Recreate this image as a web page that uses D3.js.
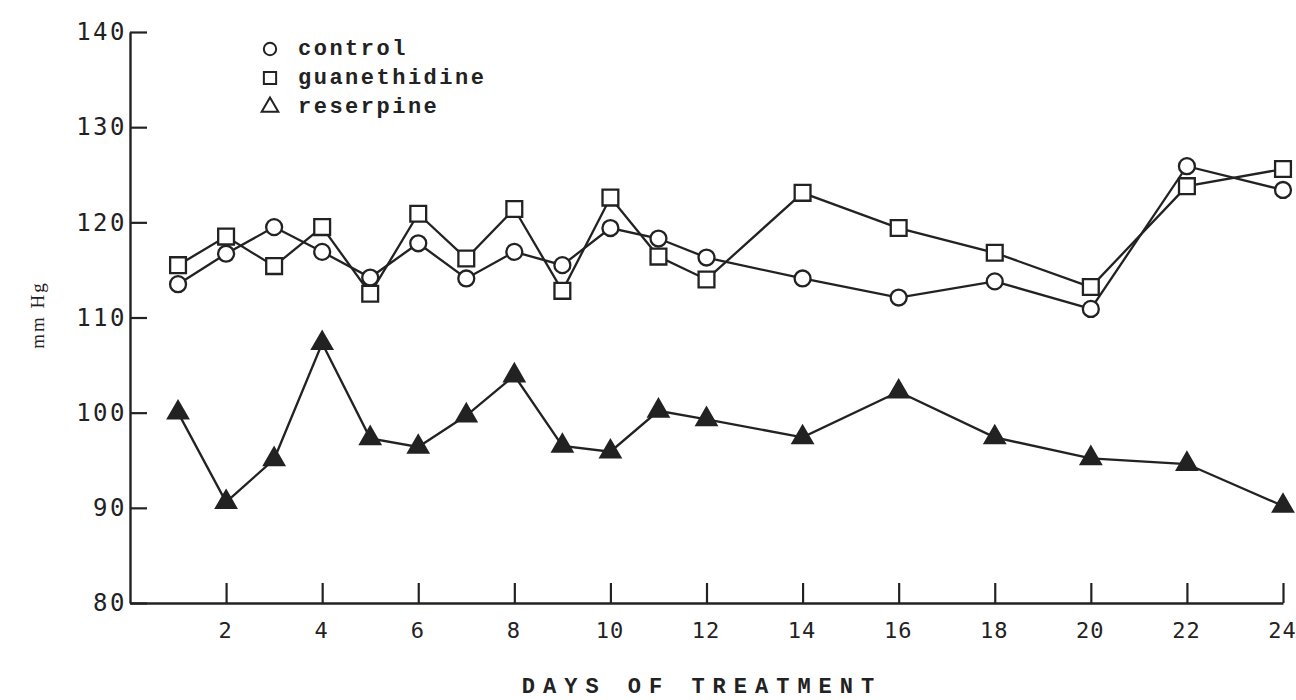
<!DOCTYPE html>
<html>
<head>
<meta charset="utf-8">
<script src="https://cdn.jsdelivr.net/npm/d3@7"></script>
<style>
  html, body { margin: 0; padding: 0; background: #fff; }
  svg { display: block; }
  .num { font-family: "DejaVu Sans Mono", "Liberation Mono", monospace; fill: #222; }
  .typ { font-family: "Liberation Mono", "DejaVu Sans Mono", monospace; fill: #222; }
  .ser { font-family: "Liberation Serif", "DejaVu Serif", serif; fill: #222; }
</style>
</head>
<body>
<svg id="chart" width="1296" height="700"></svg>
<script>
// Blood pressure (mm Hg) over days of treatment
const daysA = [1, 2, 3, 4, 5, 6, 7, 8, 9, 10, 11, 12, 14, 16, 18, 20, 22, 24];
const control =      [113.5, 116.7, 119.5, 116.9, 114.2, 117.8, 114.1, 116.9, 115.5, 119.4, 118.3, 116.3, 114.1, 112.1, 113.8, 110.9, 125.9, 123.4];
const guanethidine = [115.5, 118.5, 115.4, 119.5, 112.5, 120.9, 116.2, 121.4, 112.8, 122.6, 116.4, 114.0, 123.1, 119.4, 116.8, 113.2, 123.8, 125.6];
const reserpine =    [100.0, 90.6, 95.1, 107.3, 97.3, 96.4, 99.7, 103.9, 96.5, 95.9, 100.2, 99.3, 97.4, 102.2, 97.4, 95.2, 94.6, 90.2];

const xTicks = [2, 4, 6, 8, 10, 12, 14, 16, 18, 20, 22, 24];
const yTicks = [80, 90, 100, 110, 120, 130, 140];
const legendLabels = ["control", "guanethidine", "reserpine"];

const ink = "#222";
const svg = d3.select("#chart");

const x = d3.scaleLinear().domain([0, 24]).range([130, 1283]);
const y = d3.scaleLinear().domain([80, 140]).range([603, 32]);

// Axes with inward ticks
const yAxis = d3.axisLeft(y).tickValues(yTicks).tickSizeInner(-17).tickSizeOuter(0).tickPadding(3);
const xAxis = d3.axisBottom(x).tickValues(xTicks).tickSizeInner(-20).tickSizeOuter(0).tickPadding(20);

const gy = svg.append("g").attr("transform", `translate(${x(0)},0)`).call(yAxis);
const gx = svg.append("g").attr("transform", `translate(0,${y(80)})`).call(xAxis);

[gy, gx].forEach(g => {
  g.selectAll("path.domain").attr("stroke", ink).attr("stroke-width", 2.4);
  g.selectAll(".tick line").attr("stroke", ink).attr("stroke-width", 2.2);
  g.selectAll(".tick text").attr("class", "num").attr("font-family", null).attr("font-size", null);
});
gy.selectAll(".tick text").style("font-size", "24px").style("letter-spacing", "2.5px");
gx.selectAll(".tick text").style("font-size", "22px").style("letter-spacing", "1px")
  .attr("dy", "0.7em").attr("dx", "-1px");

// Axis titles
svg.append("text").attr("class", "typ")
  .attr("x", 702).attr("y", 693)
  .attr("text-anchor", "middle")
  .style("font-size", "22px").style("font-weight", "bold").style("letter-spacing", "8px")
  .text("DAYS OF TREATMENT");

svg.append("text").attr("class", "ser")
  .attr("transform", `translate(44,315) rotate(-90)`)
  .attr("text-anchor", "middle")
  .style("font-size", "19px").style("letter-spacing", "2px")
  .text("mm Hg");

// Series
const line = d3.line().x(d => x(d[0])).y(d => y(d[1]));
const series = [
  { name: "control", values: control, shape: d3.symbolCircle, size: 200, fill: "#fff" },
  { name: "guanethidine", values: guanethidine, shape: d3.symbolSquare, size: 250, fill: "#fff" },
  { name: "reserpine", values: reserpine, shape: d3.symbolTriangle, size: 170, fill: ink }
];

series.forEach(s => {
  const pts = daysA.map((d, i) => [d, s.values[i]]);
  svg.append("path")
    .attr("d", line(pts))
    .attr("fill", "none")
    .attr("stroke", ink)
    .attr("stroke-width", 2.3);
});

series.forEach(s => {
  const pts = daysA.map((d, i) => [d, s.values[i]]);
  svg.append("g").selectAll("path")
    .data(pts)
    .join("path")
    .attr("transform", d => `translate(${x(d[0])},${y(d[1])})`)
    .attr("d", d3.symbol().type(s.shape).size(s.size))
    .attr("fill", s.fill)
    .attr("stroke", ink)
    .attr("stroke-width", 2.3);
});

// Legend (open symbols)
const legendShapes = [d3.symbolCircle, d3.symbolSquare, d3.symbolTriangle];
const legendSizes = [120, 150, 120];
const lg = svg.append("g").attr("transform", "translate(270,49)");
legendLabels.forEach((lab, i) => {
  const row = lg.append("g").attr("transform", `translate(0,${i * 29})`);
  row.append("path")
    .attr("d", d3.symbol().type(legendShapes[i]).size(legendSizes[i]))
    .attr("fill", "none").attr("stroke", ink).attr("stroke-width", 2);
  row.append("text").attr("class", "typ")
    .attr("x", 28).attr("y", 6)
    .style("font-size", "22px").style("font-weight", "bold").style("letter-spacing", "2.5px")
    .text(lab);
});
</script>
</body>
</html>
